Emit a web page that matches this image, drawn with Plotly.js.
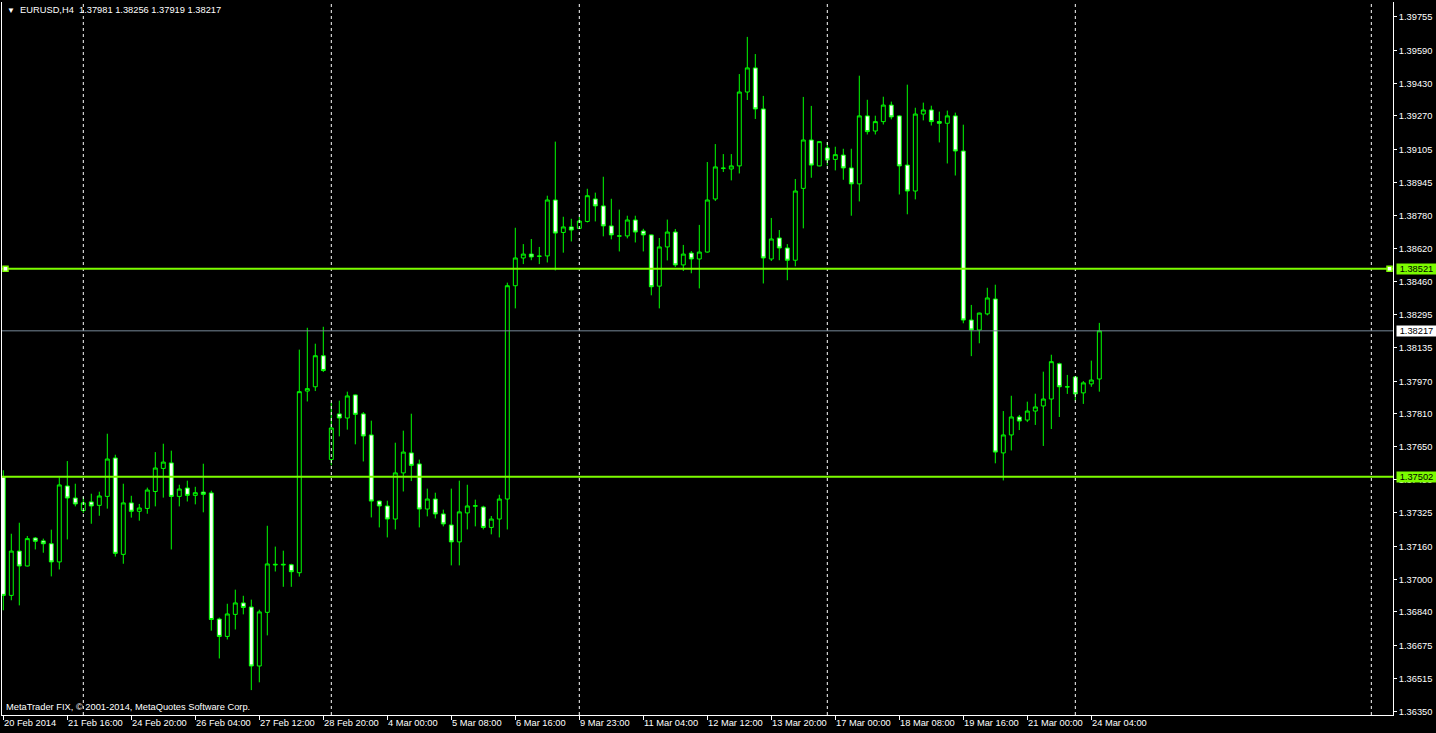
<!DOCTYPE html>
<html><head><meta charset="utf-8">
<script src="https://cdn.plot.ly/plotly-3.0.1.min.js"></script>
<style>html,body{margin:0;padding:0;background:#000;overflow:hidden}#chart{width:1436px;height:733px}</style>
</head><body><div id="chart"></div>
<script>
const symbolName = "EURUSD,H4";
const openP = [1.37501,1.36921,1.37138,1.37065,1.37202,1.37188,1.37174,1.37085,1.37457,1.37398,
1.37337,1.37379,1.37362,1.37406,1.37594,1.37122,1.37374,1.37333,1.37347,1.37430,
1.37543,1.37570,1.37406,1.37447,1.37411,1.37427,1.37423,1.36805,1.36720,1.36828,
1.36884,1.36864,1.36575,1.36838,1.37070,1.37070,1.37071,1.37032,1.37922,1.37943,
1.38095,1.37587,1.37810,1.37790,1.37903,1.37810,1.37707,1.37383,1.37359,1.37295,
1.37521,1.37619,1.37565,1.37344,1.37393,1.37320,1.37266,1.37183,1.37325,1.37358,
1.37354,1.37254,1.37295,1.37393,1.38438,1.38574,1.38593,1.38582,1.38584,1.38858,
1.38699,1.38726,1.38719,1.38753,1.38863,1.38829,1.38731,1.38681,1.38682,1.38760,
1.38706,1.38687,1.38436,1.38628,1.38701,1.38540,1.38598,1.38569,1.38603,1.38863,
1.39013,1.39010,1.39025,1.39387,1.39505,1.39304,1.38569,1.38672,1.38623,1.38563,
1.38915,1.39152,1.39025,1.39113,1.39057,1.39078,1.39015,1.38937,1.39270,1.39196,
1.39242,1.39323,1.39270,1.39029,1.38902,1.39279,1.39299,1.39242,1.39234,1.39270,
1.39098,1.38270,1.38221,1.38300,1.38373,1.37619,1.37707,1.37795,1.37780,1.37824,
1.37849,1.37883,1.38056,1.37942,1.37991,1.37913,1.37957,1.37981];
const highP = [1.37534,1.37223,1.37277,1.37212,1.37207,1.37199,1.37243,1.37499,1.37579,1.37468,
1.37405,1.37419,1.37429,1.37713,1.37610,1.37468,1.37409,1.37369,1.37449,1.37623,
1.37664,1.37630,1.37463,1.37483,1.37453,1.37566,1.37434,1.36812,1.36880,1.36949,
1.36919,1.36900,1.36851,1.37262,1.37160,1.37140,1.37076,1.38125,1.38232,1.38154,
1.38237,1.37865,1.37875,1.37919,1.37905,1.37819,1.37777,1.37385,1.37385,1.37669,
1.37728,1.37811,1.37586,1.37444,1.37424,1.37341,1.37444,1.37483,1.37463,1.37390,
1.37360,1.37310,1.37414,1.38453,1.38722,1.38642,1.38667,1.38628,1.38879,1.39144,
1.38776,1.38766,1.38776,1.38913,1.38894,1.38972,1.38864,1.38811,1.38781,1.38781,
1.38717,1.38689,1.38672,1.38762,1.38716,1.38638,1.38608,1.38736,1.39044,1.39132,
1.39083,1.39083,1.39475,1.39657,1.39573,1.39368,1.38770,1.38711,1.38642,1.38961,
1.39363,1.39319,1.39146,1.39142,1.39119,1.39109,1.39109,1.39467,1.39349,1.39271,
1.39364,1.39340,1.39273,1.39423,1.39310,1.39335,1.39320,1.39291,1.39296,1.39286,
1.39227,1.38344,1.38306,1.38428,1.38443,1.37824,1.37899,1.37805,1.37870,1.37909,
1.38017,1.38100,1.38061,1.38001,1.37993,1.37971,1.38071,1.38256];
const lowP = [1.36848,1.36897,1.36872,1.37063,1.37146,1.37130,1.37014,1.37048,1.37195,1.37357,
1.37325,1.37272,1.37311,1.37346,1.37111,1.37076,1.37302,1.37287,1.37321,1.37357,
1.37400,1.37146,1.37357,1.37381,1.37367,1.37328,1.36748,1.36612,1.36705,1.36754,
1.36828,1.36457,1.36495,1.36725,1.37038,1.36963,1.36963,1.37013,1.37871,1.37922,
1.38015,1.37558,1.37700,1.37733,1.37661,1.37577,1.37303,1.37254,1.37205,1.37244,
1.37430,1.37481,1.37254,1.37308,1.37298,1.37259,1.37068,1.37068,1.37244,1.37259,
1.37244,1.37220,1.37205,1.37244,1.38327,1.38544,1.38563,1.38544,1.38552,1.38513,
1.38600,1.38655,1.38717,1.38748,1.38753,1.38680,1.38665,1.38606,1.38670,1.38650,
1.38606,1.38391,1.38327,1.38562,1.38530,1.38510,1.38499,1.38425,1.38601,1.38853,
1.38995,1.38954,1.38988,1.39348,1.39255,1.38449,1.38559,1.38563,1.38465,1.38533,
1.38719,1.38967,1.39023,1.39028,1.39003,1.38957,1.38781,1.38851,1.39179,1.39179,
1.39228,1.39253,1.38885,1.38788,1.38861,1.39248,1.39223,1.39140,1.39037,1.38978,
1.38254,1.38093,1.38156,1.38293,1.37568,1.37484,1.37631,1.37731,1.37770,1.37756,
1.37653,1.37736,1.37795,1.37908,1.37873,1.37859,1.37943,1.37919];
const closeP = [1.36921,1.37138,1.37065,1.37199,1.37186,1.37174,1.37085,1.37462,1.37398,1.37369,
1.37374,1.37359,1.37408,1.37589,1.37127,1.37374,1.37333,1.37349,1.37437,1.37545,
1.37574,1.37406,1.37442,1.37411,1.37424,1.37416,1.36803,1.36720,1.36830,1.36884,
1.36862,1.36575,1.36840,1.37075,1.37073,1.37073,1.37037,1.37919,1.37934,1.38095,
1.38023,1.37741,1.37790,1.37898,1.37808,1.37702,1.37383,1.37359,1.37295,1.37521,
1.37623,1.37558,1.37344,1.37393,1.37320,1.37271,1.37183,1.37330,1.37359,1.37360,
1.37254,1.37295,1.37393,1.38438,1.38574,1.38593,1.38579,1.38583,1.38858,1.38696,
1.38726,1.38711,1.38755,1.38879,1.38829,1.38731,1.38687,1.38682,1.38760,1.38701,
1.38687,1.38433,1.38628,1.38701,1.38540,1.38593,1.38569,1.38603,1.38858,1.39020,
1.39014,1.39025,1.39387,1.39505,1.39304,1.38574,1.38667,1.38623,1.38563,1.38902,
1.39152,1.39029,1.39144,1.39054,1.39080,1.39015,1.38937,1.39270,1.39193,1.39242,
1.39323,1.39265,1.39025,1.38902,1.39279,1.39299,1.39242,1.39234,1.39270,1.39098,
1.38270,1.38221,1.38304,1.38378,1.37623,1.37707,1.37795,1.37775,1.37824,1.37844,
1.37883,1.38066,1.37943,1.37943,1.37908,1.37962,1.37976,1.38217];

const dateTickBars = [0,8,16,24,32,40,48,56,64,72,80,88,96,104,112,120,128,136];
const dateTickLabels = ["20 Feb 2014","21 Feb 16:00","24 Feb 20:00","26 Feb 04:00","27 Feb 12:00",
"28 Feb 20:00","4 Mar 00:00","5 Mar 08:00","6 Mar 16:00","9 Mar 23:00","11 Mar 04:00",
"12 Mar 12:00","13 Mar 20:00","17 Mar 00:00","18 Mar 08:00","19 Mar 16:00","21 Mar 00:00","24 Mar 04:00"];
const priceTicks = [1.39755,1.39590,1.39430,1.39270,1.39105,1.38945,1.38780,1.38620,1.38460,1.38295,
1.38135,1.37970,1.37810,1.37650,1.37490,1.37325,1.37160,1.37000,1.36840,1.36675,1.36515,1.36350];
const priceTickLabels = ["1.39755","1.39590","1.39430","1.39270","1.39105","1.38945","1.38780","1.38620",
"1.38460","1.38295","1.38135","1.37970","1.37810","1.37650","1.37490","1.37325","1.37160","1.37000",
"1.36840","1.36675","1.36515","1.36350"];
const separatorBars = [10,41,72,103,134,171];
const levelPrices = [1.38521, 1.37502];
const copyrightText = "MetaTrader FIX, \u00a9 2001-2014, MetaQuotes Software Corp.";

const FONT = "Liberation Sans, Arial, sans-serif";
const FS = 9.3;
const LEVEL_GREEN = "#7cfc00";
const n = openP.length;
const bars = openP.map((_, i) => i);
const bid = closeP[n - 1];
const fmt = v => v.toFixed(5);

const traces = [{
  type: "candlestick", x: bars, open: openP, high: highP, low: lowP, close: closeP,
  increasing: {line: {color: "#00ff00", width: 1}, fillcolor: "#000000"},
  decreasing: {line: {color: "#00ff00", width: 1}, fillcolor: "#ffffff"},
  whiskerwidth: 0, hoverinfo: "none", showlegend: false
}];

const shapes = [];
separatorBars.forEach(b => shapes.push({type: "line", xref: "x", yref: "paper", x0: b, x1: b, y0: 0, y1: 1,
  line: {color: "#ffffff", width: 1, dash: "3px,3px"}, layer: "above"}));
shapes.push({type: "line", xref: "paper", yref: "y", x0: 0, x1: 1, y0: bid, y1: bid,
  line: {color: "#778899", width: 1}});
levelPrices.forEach(p => shapes.push({type: "line", xref: "paper", yref: "y", x0: 0, x1: 1, y0: p, y1: p,
  line: {color: LEVEL_GREEN, width: 2}}));
// selection handles on the first level line
[[0, 1, 6], [1, -6, -1]].forEach(([anchor, a, b]) => shapes.push({type: "rect", xref: "paper", xsizemode: "pixel",
  xanchor: anchor, x0: a, x1: b, yref: "y", ysizemode: "pixel", yanchor: levelPrices[0], y0: -2.5, y1: 2.5,
  fillcolor: "#ffffff", line: {color: LEVEL_GREEN, width: 1.5}}));

const annotations = [];
dateTickBars.forEach((b, k) => annotations.push({xref: "x", yref: "paper", x: b, y: 0, xanchor: "left", yanchor: "top",
  yshift: -2, xshift: 0, text: dateTickLabels[k], showarrow: false, borderpad: 0,
  font: {family: FONT, size: FS, color: "#ffffff"}}));
levelPrices.forEach(p => annotations.push({xref: "paper", yref: "y", x: 1, y: p, xanchor: "left", yanchor: "middle",
  xshift: 3, text: fmt(p), showarrow: false, bgcolor: LEVEL_GREEN, borderpad: 0, width: 39, height: 10,
  font: {family: FONT, size: FS, color: "#000000"}}));
annotations.push({xref: "paper", yref: "y", x: 1, y: bid, xanchor: "left", yanchor: "middle",
  xshift: 3, text: fmt(bid), showarrow: false, bgcolor: "#ffffff", borderpad: 0, width: 39, height: 10,
  font: {family: FONT, size: FS, color: "#000000"}});
annotations.push({xref: "paper", yref: "paper", x: 0, y: 1, xanchor: "left", yanchor: "top", xshift: 4, yshift: -2,
  showarrow: false, borderpad: 0,
  text: "<span style='font-size:8px'>\u25bc</span>\u00a0\u00a0" + symbolName + "\u00a0\u00a0" +
    [openP[n-1], highP[n-1], lowP[n-1], closeP[n-1]].map(fmt).join("\u00a0"),
  font: {family: FONT, size: FS, color: "#ffffff"}});
annotations.push({xref: "paper", yref: "paper", x: 0, y: 0, xanchor: "left", yanchor: "bottom", xshift: 3, yshift: 2,
  showarrow: false, borderpad: 0, text: copyrightText, font: {family: FONT, size: FS, color: "#ffffff"}});

const layout = {
  width: 1436, height: 733,
  margin: {l: 2, r: 43, t: 2, b: 18, pad: 0},
  paper_bgcolor: "#000000", plot_bgcolor: "#000000",
  showlegend: false, dragmode: false, hovermode: false,
  xaxis: {type: "linear", range: [-0.1625, 173.71], showgrid: false, zeroline: false,
    showline: true, linecolor: "#ffffff", linewidth: 1,
    ticks: "outside", ticklen: 4, tickcolor: "#ffffff", tickwidth: 1,
    tickvals: dateTickBars, showticklabels: false, rangeslider: {visible: false}, fixedrange: true},
  yaxis: {side: "right", range: [1.36335, 1.39828], showgrid: false, zeroline: false,
    showline: true, mirror: true, linecolor: "#ffffff", linewidth: 1,
    ticks: "outside", ticklen: 3, tickcolor: "#ffffff", tickwidth: 1,
    tickvals: priceTicks, ticktext: priceTickLabels,
    tickfont: {family: FONT, size: FS, color: "#ffffff"}, fixedrange: true},
  shapes: shapes, annotations: annotations
};
Plotly.newPlot("chart", traces, layout, {displayModeBar: false, staticPlot: true});
</script></body></html>
